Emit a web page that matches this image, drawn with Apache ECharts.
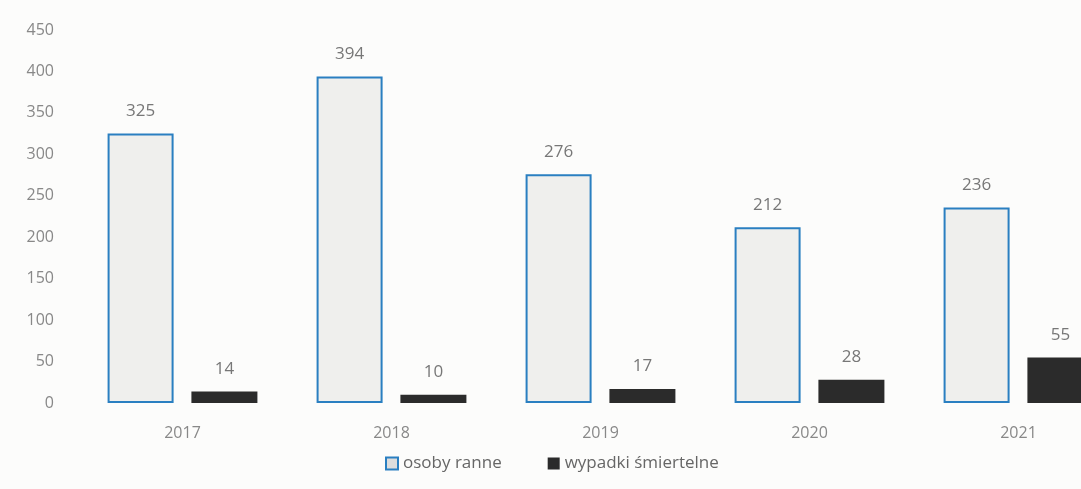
<!DOCTYPE html>
<html><head><meta charset="utf-8">
<script src="https://cdn.jsdelivr.net/npm/echarts@6/dist/echarts.min.js"></script>
<style>html,body{margin:0;padding:0;background:#fcfcfb}#c{width:1081px;height:489px}</style>
</head><body><div id="c"></div>
<script>
const categories = ['2017','2018','2019','2020','2021'];
const injured = [325, 394, 276, 212, 236];
const fatal = [14, 10, 17, 28, 55];
const seriesNames = ['osoby ranne', 'wypadki śmiertelne'];

const chart = echarts.init(document.getElementById('c'));
const font = 'Open Sans, Lato, sans-serif';
chart.setOption({
  backgroundColor: '#fcfcfb',
  animation: false,
  grid: { left: 78, top: 30, width: 1045, bottom: 86, outerBoundsMode: 'none', containLabel: false },
  legend: {
    bottom: 12, left: 380, itemWidth: 12, itemHeight: 12, itemGap: 46,
    textStyle: { color: '#666', fontSize: 17, fontFamily: font },
    data: [
      { name: seriesNames[0], icon: 'rect', itemStyle: { color: '#ddd', borderColor: '#2a7fc1', borderWidth: 2 } },
      { name: seriesNames[1], icon: 'rect', itemStyle: { color: '#2b2b2b' } }
    ]
  },
  xAxis: {
    type: 'category', data: categories,
    axisLine: { show: false }, axisTick: { show: false },
    axisLabel: { color: '#888', fontSize: 16, fontFamily: font, margin: 22 }
  },
  yAxis: {
    type: 'value', min: 0, max: 450, interval: 50,
    splitLine: { show: false }, axisLine: { show: false }, axisTick: { show: false },
    axisLabel: { color: '#888', fontSize: 16, fontFamily: font, margin: 24 }
  },
  series: [
    { name: seriesNames[0], type: 'bar', data: injured, barWidth: 66, barGap: '27%',
      itemStyle: { color: '#efefed', borderColor: '#2a7fc1', borderWidth: 2 },
      label: { show: true, position: 'top', distance: 14, color: '#777', fontSize: 17, fontFamily: font } },
    { name: seriesNames[1], type: 'bar', data: fatal, barWidth: 66,
      itemStyle: { color: '#2b2b2b' },
      label: { show: true, position: 'top', distance: 14, color: '#777', fontSize: 17, fontFamily: font } }
  ]
});
</script></body></html>
